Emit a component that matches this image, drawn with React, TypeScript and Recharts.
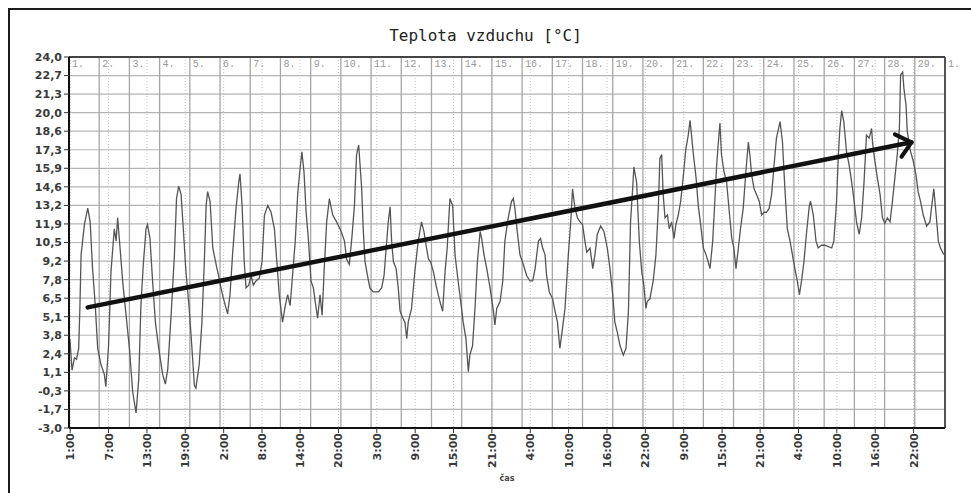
import { LineChart, Line, XAxis, YAxis, CartesianGrid, ReferenceLine } from 'recharts'

const TITLE = 'Teplota vzduchu [°C]'
const X_TITLE = 'čas'

// y axis: -3 .. 24 in steps of 1.35
const Y_TICKS = [-3, -1.65, -0.3, 1.05, 2.4, 3.75, 5.1, 6.45, 7.8, 9.15, 10.5, 11.85, 13.2, 14.55, 15.9, 17.25, 18.6, 19.95, 21.3, 22.65, 24]
const Y_LABELS = ['-3,0', '-1,7', '-0,3', '1,1', '2,4', '3,8', '5,1', '6,5', '7,8', '9,2', '10,5', '11,9', '13,2', '14,6', '15,9', '17,3', '18,6', '20,0', '21,3', '22,7', '24,0']

// x axis in days from the 1st, 0:00
const X_TICKS = [0.04, 1.31, 2.58, 3.85, 5.12, 6.39, 7.65, 8.92, 10.19, 11.46, 12.73, 14.0, 15.27, 16.54, 17.81, 19.08, 20.35, 21.62, 22.88, 24.15, 25.42, 26.69, 27.96]
const X_LABELS = ['1:00', '7:00', '13:00', '19:00', '2:00', '8:00', '14:00', '20:00', '3:00', '9:00', '15:00', '21:00', '4:00', '10:00', '16:00', '22:00', '9:00', '15:00', '21:00', '4:00', '10:00', '16:00', '22:00']
const DAY_LABELS = ['1.', '2.', '3.', '4.', '5.', '6.', '7.', '8.', '9.', '10.', '11.', '12.', '13.', '14.', '15.', '16.', '17.', '18.', '19.', '20.', '21.', '22.', '23.', '24.', '25.', '26.', '27.', '28.', '29.', '1.']

// [day, °C]
const TEMP_1 = [[0.03, 3.5], [0.10, 1.2], [0.18, 2.1], [0.25, 2.0], [0.32, 2.8], [0.36, 5.7], [0.40, 9.6], [0.51, 11.8], [0.62, 13.0], [0.70, 12.0], [0.78, 8.6], [0.87, 5.9], [0.95, 2.8], [1.06, 1.6], [1.17, 0.9], [1.22, 0.0], [1.31, 3.0], [1.39, 8.4], [1.50, 11.5], [1.56, 10.6], [1.61, 12.3], [1.69, 10.1], [1.78, 7.6], [1.89, 5.2], [2.00, 2.8], [2.11, -0.4], [2.22, -1.9], [2.31, 0.6], [2.38, 5.9], [2.46, 8.9], [2.55, 11.5], [2.60, 11.8], [2.68, 10.8], [2.77, 7.6], [2.86, 4.7], [2.97, 2.8], [3.10, 0.9], [3.19, 0.2], [3.27, 1.3], [3.38, 5.2], [3.49, 9.6], [3.56, 13.7], [3.63, 14.6], [3.71, 14.0], [3.79, 11.3], [3.87, 8.4], [3.98, 5.7], [4.07, 2.8], [4.15, 0.1], [4.20, -0.1], [4.31, 1.6], [4.40, 4.7], [4.48, 9.1], [4.54, 13.2], [4.59, 14.2], [4.67, 13.5], [4.76, 10.1], [4.87, 8.9], [4.95, 8.1]]
const TEMP_2 = [[5.03, 7.2], [5.14, 6.2], [5.25, 5.3], [5.33, 6.7], [5.42, 9.8], [5.53, 13.0], [5.62, 14.9], [5.66, 15.5], [5.73, 13.2], [5.80, 9.1], [5.86, 7.2], [5.95, 7.4], [6.03, 8.1], [6.10, 7.4], [6.19, 7.7], [6.30, 7.9], [6.39, 9.1], [6.47, 12.5], [6.58, 13.2], [6.69, 12.7], [6.80, 11.5], [6.88, 9.1], [6.96, 6.7], [7.07, 4.7], [7.16, 5.9], [7.24, 6.7], [7.32, 5.9], [7.40, 8.1], [7.49, 10.6], [7.57, 14.0], [7.65, 15.9], [7.71, 17.1], [7.78, 15.6], [7.85, 12.7], [7.93, 10.6], [8.01, 7.7], [8.09, 7.2], [8.15, 6.2], [8.23, 5.0], [8.31, 6.7], [8.38, 5.2], [8.45, 8.6], [8.53, 12.0], [8.62, 13.7], [8.73, 12.5], [8.86, 12.0], [9.01, 11.3], [9.12, 10.6], [9.19, 9.3], [9.28, 8.9], [9.37, 11.0], [9.45, 13.2], [9.52, 16.9], [9.59, 17.6], [9.69, 14.4], [9.74, 11.5], [9.80, 9.1], [9.88, 8.1], [9.96, 7.2]]
const TEMP_3 = [[10.07, 6.9], [10.24, 6.9], [10.35, 7.2], [10.43, 8.1], [10.49, 9.8], [10.57, 12.0], [10.63, 13.1], [10.68, 10.6], [10.74, 9.1], [10.83, 8.6], [10.90, 7.2], [10.96, 5.5], [11.05, 5.0], [11.12, 4.7], [11.18, 3.5], [11.23, 4.7], [11.34, 5.7], [11.45, 8.4], [11.56, 10.6], [11.67, 12.0], [11.75, 11.3], [11.82, 10.3], [11.90, 9.3], [11.97, 9.1], [12.06, 8.4], [12.17, 7.2], [12.28, 6.2], [12.37, 5.5], [12.45, 8.4], [12.52, 10.1], [12.61, 13.7], [12.70, 13.2], [12.78, 9.6], [12.86, 8.1], [12.94, 6.7], [13.05, 4.7], [13.14, 3.5], [13.22, 1.1], [13.27, 2.3], [13.36, 3.0], [13.44, 5.7], [13.52, 9.1], [13.61, 11.3], [13.66, 10.8], [13.74, 9.6], [13.83, 8.6], [13.94, 7.2], [14.05, 5.5], [14.10, 4.5], [14.16, 5.7], [14.27, 6.2], [14.36, 7.7], [14.43, 10.6], [14.54, 12.3], [14.65, 13.5], [14.71, 13.7], [14.76, 13.0], [14.84, 11.3], [14.93, 9.6]]
const TEMP_4 = [[15.04, 8.9], [15.15, 8.1], [15.26, 7.7], [15.35, 7.7], [15.43, 8.6], [15.54, 10.6], [15.61, 10.8], [15.68, 10.1], [15.76, 9.6], [15.81, 8.1], [15.90, 6.9], [16.01, 6.4], [16.09, 5.5], [16.17, 4.7], [16.25, 2.8], [16.34, 4.3], [16.42, 5.7], [16.53, 9.6], [16.61, 12.0], [16.67, 14.4], [16.75, 13.0], [16.83, 12.3], [16.92, 12.0], [17.00, 11.8], [17.08, 10.6], [17.14, 9.8], [17.25, 10.1], [17.34, 8.6], [17.41, 9.6], [17.49, 11.1], [17.60, 11.7], [17.71, 11.3], [17.82, 10.1], [17.91, 8.6], [18.00, 6.7], [18.07, 4.7], [18.15, 4.0], [18.24, 3.0], [18.35, 2.3], [18.44, 2.8], [18.52, 5.5], [18.59, 12.0], [18.66, 14.4], [18.70, 16.0], [18.79, 14.9], [18.88, 10.6], [18.96, 8.4], [19.03, 7.4], [19.10, 5.7], [19.14, 6.2], [19.23, 6.4], [19.34, 7.7], [19.43, 9.6], [19.51, 13.0], [19.56, 16.6], [19.62, 16.9], [19.67, 14.0], [19.73, 12.3], [19.81, 12.5], [19.87, 11.5], [19.95, 12.0]]
const TEMP_5 = [[20.03, 10.8], [20.09, 11.8], [20.17, 12.5], [20.25, 13.5], [20.34, 15.4], [20.42, 17.3], [20.50, 18.3], [20.56, 19.4], [20.61, 18.3], [20.67, 16.9], [20.76, 15.2], [20.83, 13.2], [20.91, 11.8], [21.00, 10.1], [21.09, 9.6], [21.16, 9.1], [21.22, 8.6], [21.31, 10.6], [21.38, 13.5], [21.44, 16.1], [21.49, 17.6], [21.55, 19.2], [21.60, 16.9], [21.68, 15.7], [21.77, 14.9], [21.86, 12.7], [21.94, 10.8], [22.01, 10.1], [22.08, 8.6], [22.16, 10.1], [22.23, 11.5], [22.32, 13.0], [22.41, 15.7], [22.49, 17.8], [22.54, 16.9], [22.60, 15.4], [22.68, 14.4], [22.76, 14.0], [22.85, 13.5], [22.93, 12.5], [23.01, 12.7], [23.09, 12.7], [23.18, 13.0], [23.26, 14.0], [23.34, 16.1], [23.42, 18.1], [23.54, 19.3], [23.62, 17.8], [23.70, 14.4], [23.78, 11.5], [23.87, 10.6], [23.95, 9.6], [24.03, 8.6], [24.11, 7.7], [24.18, 6.7], [24.25, 7.7], [24.33, 9.1], [24.42, 11.3], [24.51, 13.2], [24.55, 13.5], [24.64, 12.5], [24.73, 10.6], [24.80, 10.1], [24.91, 10.3]]
const TEMP_6 = [[25.02, 10.3], [25.14, 10.2], [25.25, 10.1], [25.32, 10.6], [25.41, 13.5], [25.47, 16.9], [25.52, 18.8], [25.58, 20.1], [25.65, 19.3], [25.74, 17.1], [25.83, 16.1], [25.91, 14.9], [25.98, 13.7], [26.07, 12.0], [26.16, 11.1], [26.24, 12.3], [26.32, 14.9], [26.40, 18.3], [26.49, 18.1], [26.57, 18.8], [26.60, 17.8], [26.68, 16.4], [26.76, 15.2], [26.85, 14.0], [26.93, 12.3], [27.01, 11.9], [27.09, 12.3], [27.18, 12.0], [27.26, 13.5], [27.34, 15.2], [27.42, 16.9], [27.49, 18.8], [27.53, 22.7], [27.60, 22.9], [27.64, 21.7], [27.71, 20.5], [27.75, 18.6], [27.84, 17.3], [27.95, 16.4], [28.04, 15.4], [28.11, 14.2], [28.19, 13.5], [28.28, 12.5], [28.39, 11.7], [28.50, 12.0], [28.59, 13.7], [28.63, 14.4], [28.70, 12.7], [28.78, 10.6], [28.85, 10.1], [28.94, 9.7], [29.00, 9.6]]

// hand-drawn trend arrow
const ARROW_SHAFT = [[0.62, 5.78], [27.89, 17.79]]
const ARROW_HEAD = [[27.34, 18.37], [27.89, 17.79], [27.56, 16.74]]

const toPoints = (rows: number[][]) => rows.map(([d, t]) => ({ d, t }))

const MONO = '"DejaVu Sans Mono", monospace'
const SANS = '"DejaVu Sans", sans-serif'

function XTick(props: any) {
  const { x, y, index } = props
  return (
    <text
      x={x}
      y={y}
      transform={`rotate(-90 ${x} ${y})`}
      textAnchor="end"
      dy="0.36em"
      fill="#3a3a3a"
      fontSize={11}
      fontWeight="bold"
      fontFamily={SANS}
    >
      {X_LABELS[index]}
    </text>
  )
}

export default function App() {
  const temps = toPoints([...TEMP_1, ...TEMP_2, ...TEMP_3, ...TEMP_4, ...TEMP_5, ...TEMP_6])

  return (
    <div style={{ position: 'relative', width: 971, height: 493, overflow: 'hidden', background: '#fff' }}>
      <style>{'body{margin:0}'}</style>
      {/* scanned frame around the image */}
      <div style={{ position: 'absolute', left: 8, top: 8, width: 1200, height: 900, border: '2px solid #1c1c1c' }} />
      <div
        style={{
          position: 'absolute', left: 0, top: 28, width: 971, textAlign: 'center',
          fontFamily: MONO, fontSize: 16, lineHeight: '16px', color: '#222',
        }}
      >
        {TITLE}
      </div>
      <div
        style={{
          position: 'absolute', left: 490, top: 474, width: 34, textAlign: 'center',
          fontFamily: SANS, fontSize: 8, fontWeight: 'bold', color: '#444',
        }}
      >
        {X_TITLE}
      </div>
      <div style={{ position: 'absolute', left: 0, top: 0 }}>
        <LineChart width={971} height={493} margin={{ top: 57, right: 26, bottom: 25, left: 9 }}>
          <CartesianGrid horizontal vertical={false} stroke="#b4b4b4" strokeWidth={1.2} />
          <CartesianGrid horizontal={false} vertical stroke="#c4c4c4" strokeDasharray="1 2" />
          <XAxis
            dataKey="d"
            type="number"
            domain={[0, 29]}
            ticks={X_TICKS}
            interval={0}
            height={40}
            tickSize={5}
            tickMargin={0}
            tick={<XTick />}
            axisLine={{ stroke: '#111', strokeWidth: 2 }}
            tickLine={{ stroke: '#333' }}
            allowDataOverflow
          />
          <YAxis
            type="number"
            domain={[-3, 24]}
            ticks={Y_TICKS}
            interval={0}
            width={60}
            tickSize={5}
            tickFormatter={(_v: number, i: number) => Y_LABELS[i]}
            tick={{ fill: '#3a3a3a', fontSize: 11, fontWeight: 'bold', fontFamily: SANS }}
            axisLine={{ stroke: '#111', strokeWidth: 2 }}
            tickLine={{ stroke: '#333' }}
            allowDataOverflow
          />
          {DAY_LABELS.map((lab, i) => (
            <ReferenceLine
              key={`day-${i}`}
              x={i}
              stroke={i === 0 ? 'none' : i === DAY_LABELS.length - 1 ? '#555' : '#a6a6a6'}
              strokeWidth={i === DAY_LABELS.length - 1 ? 2 : 1.3}
              label={{ value: lab, position: 'insideTopLeft', offset: 3, fill: '#9a9a9a', fontSize: 10, fontFamily: '"Liberation Mono", monospace' }}
            />
          ))}
          <ReferenceLine y={24} stroke="#444" strokeWidth={2} />
          <Line
            data={temps}
            dataKey="t"
            type="linear"
            stroke="#555"
            strokeWidth={1.3}
            dot={false}
            isAnimationActive={false}
          />
          <Line
            data={toPoints(ARROW_SHAFT)}
            dataKey="t"
            type="linear"
            stroke="#111"
            strokeWidth={4.5}
            strokeLinecap="round"
            dot={false}
            isAnimationActive={false}
          />
          <Line
            data={toPoints(ARROW_HEAD)}
            dataKey="t"
            type="linear"
            stroke="#111"
            strokeWidth={4}
            strokeLinecap="round"
            strokeLinejoin="round"
            dot={false}
            isAnimationActive={false}
          />
        </LineChart>
      </div>
    </div>
  )
}
